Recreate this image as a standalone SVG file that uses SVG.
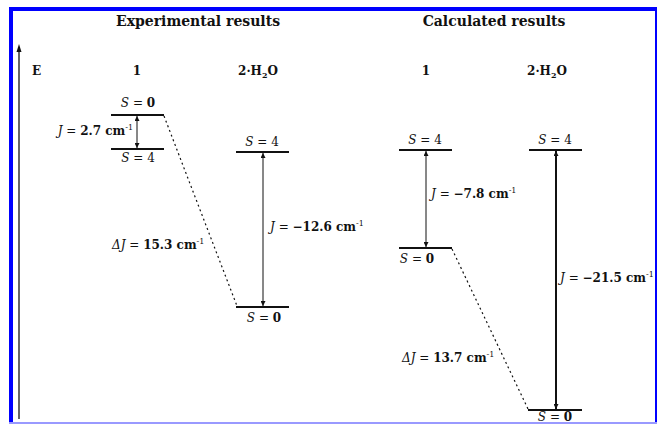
<svg xmlns="http://www.w3.org/2000/svg" width="660" height="424" viewBox="0 0 660 424">
<defs>
<style>
text{font-family:"DejaVu Serif","Liberation Serif",serif;fill:#111}
.h{font-size:14px;font-weight:bold}
.c{font-size:12px;font-weight:bold}
.l{font-size:12px}
.s{font-size:12px}
.i{font-style:italic;font-weight:normal}
.b{font-weight:bold}
.sup{font-size:8px}
.lvl{stroke:#111;stroke-width:2}
.arr{stroke:#111;stroke-width:1;fill:none;marker-start:url(#ah);marker-end:url(#ah)}
.dash{stroke:#111;stroke-width:1.2;stroke-dasharray:2 3;fill:none}
</style>
<marker id="ah" viewBox="0 0 6 6" refX="6" refY="3" markerWidth="5" markerHeight="5" orient="auto-start-reverse" markerUnits="userSpaceOnUse"><path d="M0,0 L6,3 L0,6 Z" fill="#111"/></marker>
</defs>
<rect x="0" y="0" width="660" height="424" fill="#fff"/>
<g id="frame">
<rect x="9" y="7" width="4" height="417" fill="#0000ff"/>
<rect x="9" y="7" width="648" height="4" fill="#0000ff"/>
<rect x="655" y="7" width="2" height="417" fill="#0000ff"/>
<rect x="9" y="422" width="648" height="2" fill="#9999ff"/>
</g>
<g id="axis">
<line x1="19" y1="419" x2="19" y2="50" stroke="#333" stroke-width="1.5"/>
<path d="M16.5,52 L19,44 L21.5,52 Z" fill="#111"/>
<text x="32" y="75" class="c">E</text>
</g>
<g id="headers">
<text x="198" y="26" class="h" text-anchor="middle">Experimental results</text>
<text x="494" y="26" class="h" text-anchor="middle">Calculated results</text>
<text x="137" y="75" class="c" text-anchor="middle">1</text>
<text x="258" y="75" class="c" text-anchor="middle">2·H<tspan class="sup" dy="3">2</tspan><tspan dy="-3">O</tspan></text>
<text x="426" y="75" class="c" text-anchor="middle">1</text>
<text x="547" y="75" class="c" text-anchor="middle">2·H<tspan class="sup" dy="3">2</tspan><tspan dy="-3">O</tspan></text>
</g>
<g id="exp1-S0">
<line x1="111" y1="115" x2="164" y2="115" class="lvl"/>
<text x="138" y="107" class="s" text-anchor="middle"><tspan class="i">S</tspan> = <tspan class="b">0</tspan></text>
</g>
<g id="exp1-S4">
<line x1="111" y1="149" x2="164" y2="149" class="lvl"/>
<text x="138" y="162" class="s" text-anchor="middle"><tspan class="i">S</tspan> = 4</text>
</g>
<g id="exp2-S4">
<line x1="236" y1="152" x2="289" y2="152" class="lvl"/>
<text x="262" y="146" class="s" text-anchor="middle"><tspan class="i">S</tspan> = 4</text>
</g>
<g id="exp2-S0">
<line x1="236" y1="307" x2="289" y2="307" class="lvl"/>
<text x="264" y="322" class="s" text-anchor="middle"><tspan class="i">S</tspan> = <tspan class="b">0</tspan></text>
</g>
<g id="calc1-S4">
<line x1="399" y1="150" x2="452" y2="150" class="lvl"/>
<text x="425" y="144" class="s" text-anchor="middle"><tspan class="i">S</tspan> = 4</text>
</g>
<g id="calc1-S0">
<line x1="399" y1="248" x2="452" y2="248" class="lvl"/>
<text x="417" y="263" class="s" text-anchor="middle"><tspan class="i">S</tspan> = <tspan class="b">0</tspan></text>
</g>
<g id="calc2-S4">
<line x1="529" y1="150" x2="582" y2="150" class="lvl"/>
<text x="555" y="144" class="s" text-anchor="middle"><tspan class="i">S</tspan> = 4</text>
</g>
<g id="calc2-S0">
<line x1="528" y1="410" x2="582" y2="410" class="lvl"/>
<text x="555" y="421" class="s" text-anchor="middle"><tspan class="i">S</tspan> = <tspan class="b">0</tspan></text>
</g>
<g id="connectors">
<line x1="137" y1="116" x2="137" y2="148" class="arr"/>
<line x1="263" y1="153" x2="263" y2="306" class="arr"/>
<line x1="426" y1="151" x2="426" y2="247" class="arr"/>
<line x1="556" y1="151" x2="556" y2="409" class="arr" style="stroke-width:2"/>
<line x1="164" y1="116" x2="237" y2="306" class="dash"/>
<line x1="452" y1="249" x2="528" y2="409" class="dash"/>
</g>
<g id="labels">
<text x="133" y="135" class="l" text-anchor="end"><tspan class="i">J</tspan> = <tspan class="b">2.7 cm</tspan><tspan class="sup" dy="-5">-1</tspan></text>
<text x="270" y="231" class="l"><tspan class="i">J</tspan> = <tspan class="b">−12.6 cm</tspan><tspan class="sup" dy="-5">-1</tspan></text>
<text x="112" y="249" class="l"><tspan class="i">ΔJ</tspan> = <tspan class="b">15.3 cm</tspan><tspan class="sup" dy="-5">-1</tspan></text>
<text x="431" y="198" class="l"><tspan class="i">J</tspan> = <tspan class="b">−7.8 cm</tspan><tspan class="sup" dy="-5">-1</tspan></text>
<text x="560" y="282" class="l"><tspan class="i">J</tspan> = <tspan class="b">−21.5 cm</tspan><tspan class="sup" dy="-5">-1</tspan></text>
<text x="402" y="362" class="l"><tspan class="i">ΔJ</tspan> = <tspan class="b">13.7 cm</tspan><tspan class="sup" dy="-5">-1</tspan></text>
</g>
</svg>
